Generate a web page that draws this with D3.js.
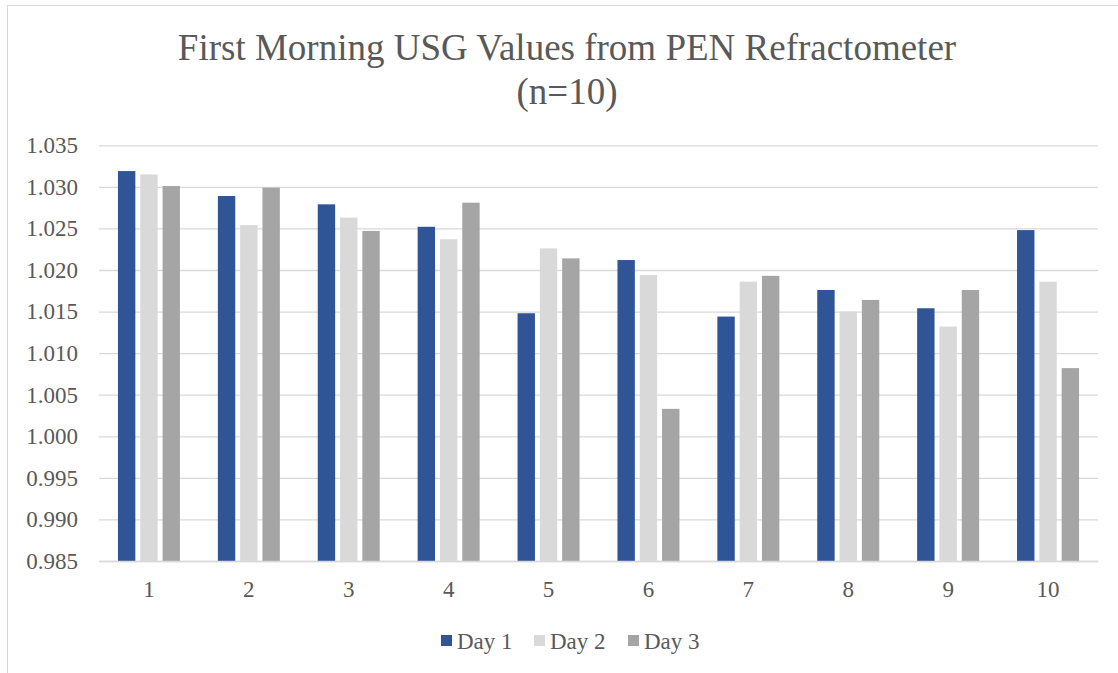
<!DOCTYPE html>
<html>
<head>
<meta charset="utf-8">
<script src="https://cdn.jsdelivr.net/npm/d3@7"></script>
<style>
  html, body { margin: 0; padding: 0; background: #fff; }
  svg text { font-family: 'Liberation Serif', 'DejaVu Serif', serif; fill: #595959; }
</style>
</head>
<body>
<svg id="svg" width="1118" height="673"></svg>
<script>
(function() {
    'use strict';

    // chart data
    var categories = ['1', '2', '3', '4', '5', '6', '7', '8', '9', '10'];
    var seriesNames = ['Day 1', 'Day 2', 'Day 3'];
    var day1 = [1.0319, 1.0289, 1.0279, 1.0252, 1.0148, 1.0212, 1.0144, 1.0176, 1.0154, 1.0248];
    var day2 = [1.0315, 1.0254, 1.0263, 1.0237, 1.0226, 1.0194, 1.0186, 1.0150, 1.0132, 1.0186];
    var day3 = [1.0301, 1.0299, 1.0247, 1.0281, 1.0214, 1.0033, 1.0193, 1.0164, 1.0176, 1.0082];
    var yTicks = [0.985, 0.990, 0.995, 1.000, 1.005, 1.010, 1.015, 1.020, 1.025, 1.030, 1.035];
    var colors = ['#2F5597', '#D9D9D9', '#A5A5A5'];
    var titleLines = ['First Morning USG Values from PEN Refractometer', '(n=10)'];

    var seriesValues = [day1, day2, day3];
    var serif = "'Liberation Serif', 'DejaVu Serif', serif";

    var svg = d3.select('#svg');

    // outer chart border
    svg.append('rect')
        .attr('x', 7.5).attr('y', 5.5)
        .attr('width', 1130).attr('height', 690)
        .attr('fill', 'none')
        .attr('stroke', '#D9D9D9')
        .attr('stroke-width', 1);

    var plot = { left: 99, right: 1098, top: 145.3, bottom: 561 };

    var x = d3.scaleBand()
        .domain(categories)
        .range([plot.left, plot.right]);

    var x1 = d3.scaleBand()
        .domain(seriesNames)
        .range([-31, 31])
        .paddingInner(0.22);

    var y = d3.scaleLinear()
        .domain([0.985, 1.035])
        .range([plot.bottom, plot.top]);

    // title (2 lines)
    svg.append('g').selectAll('text')
        .data(titleLines)
        .enter()
        .append('text')
        .attr('x', 567)
        .attr('y', function (d, i) { return 60 + i * 44; })
        .attr('text-anchor', 'middle')
        .style('font-family', serif)
        .style('font-size', '37px')
        .text(function (d) { return d; });

    // gridlines
    var grid = svg.append('g')
        .attr('transform', 'translate(' + plot.left + ',0)')
        .call(d3.axisLeft(y).tickValues(yTicks).tickSize(-(plot.right - plot.left)).tickFormat(''));
    grid.select('.domain').remove();
    grid.selectAll('line').attr('stroke', '#D9D9D9').attr('stroke-width', 1.3);

    // y axis labels
    var yAxis = svg.append('g')
        .attr('transform', 'translate(' + plot.left + ',0)')
        .call(d3.axisLeft(y).tickValues(yTicks).tickSize(0).tickPadding(21).tickFormat(d3.format('.3f')));
    yAxis.attr('font-family', serif).attr('font-size', 23);
    yAxis.select('.domain').remove();
    yAxis.selectAll('text').attr('fill', '#595959');

    // bars
    var groups = svg.append('g').selectAll('g')
        .data(categories)
        .enter()
        .append('g')
        .attr('transform', function (d) {
            return 'translate(' + (x(d) + x.bandwidth() / 2) + ',0)';
        });

    groups.selectAll('rect')
        .data(function (d, i) {
            return seriesNames.map(function (s, j) {
                return { series: s, value: seriesValues[j][i], color: colors[j] };
            });
        })
        .enter()
        .append('rect')
        .attr('x', function (d) { return x1(d.series); })
        .attr('width', x1.bandwidth())
        .attr('y', function (d) { return y(d.value); })
        .attr('height', function (d) { return y(0.985) - y(d.value); })
        .attr('fill', function (d) { return d.color; });

    // baseline axis
    var xAxis = svg.append('g')
        .attr('transform', 'translate(0,' + plot.bottom + ')')
        .call(d3.axisBottom(x).tickSize(0).tickPadding(20));
    xAxis.attr('font-family', serif).attr('font-size', 23);
    xAxis.select('.domain').attr('stroke', '#D9D9D9').attr('stroke-width', 1.3);
    xAxis.selectAll('text').attr('fill', '#595959');

    // legend
    var legendX = [441, 534, 628];
    var legend = svg.append('g').selectAll('g')
        .data(seriesNames)
        .enter()
        .append('g')
        .attr('transform', function (d, i) { return 'translate(' + legendX[i] + ',635)'; });

    legend.append('rect')
        .attr('width', 11).attr('height', 11)
        .attr('fill', function (d, i) { return colors[i]; });

    legend.append('text')
        .attr('x', 16)
        .attr('y', 14)
        .style('font-family', serif)
        .style('font-size', '23px')
        .text(function (d) { return d; });
})();
</script>
</body>
</html>
